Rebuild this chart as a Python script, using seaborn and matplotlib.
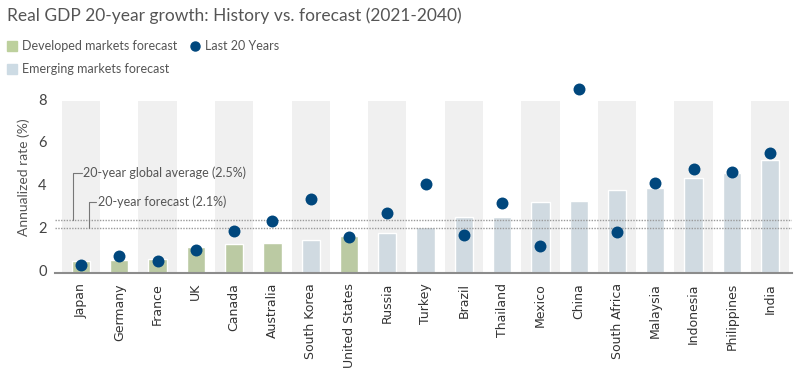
import numpy as np
import pandas as pd
import seaborn as sns
import matplotlib.pyplot as plt
from matplotlib.lines import Line2D
from matplotlib.transforms import ScaledTranslation

sns.set_style('white')
plt.rcParams['font.family'] = ['Lato', 'DejaVu Sans']

# data
countries = ['Japan', 'Germany', 'France', 'UK', 'Canada', 'Australia', 'South Korea',
             'United States', 'Russia', 'Turkey', 'Brazil', 'Thailand', 'Mexico', 'China',
             'South Africa', 'Malaysia', 'Indonesia', 'Philippines', 'India']
groups = ['Developed'] * 6 + ['Emerging'] + ['Developed'] + ['Emerging'] * 11
forecast = [0.57, 0.62, 0.67, 1.24, 1.38, 1.43, 1.56, 1.76, 1.87, 2.18, 2.62, 2.64,
            3.32, 3.39, 3.88, 3.99, 4.45, 4.69, 5.29]
last20 = [0.39, 0.82, 0.59, 1.09, 1.98, 2.46, 3.47, 1.68, 2.83, 4.16, 1.79, 3.28,
          1.29, 8.6, 1.93, 4.22, 4.87, 4.72, 5.64]
global_avg = 2.48
forecast_avg = 2.1

df = pd.DataFrame({'country': countries, 'group': groups,
                   'forecast': forecast, 'last20': last20})

green = '#bdd09d'
lightblue = '#cddbe4'
dotblue = '#00477d'
band = '#f0f0f0'
txt = '#555555'

fig = plt.figure(figsize=(7.99, 3.72), dpi=100)
ax = fig.add_axes([0.0688, 0.2653, 0.9224, 0.5177])

# alternating background bands
for i in range(0, len(countries), 2):
    ax.axvspan(i - 0.5, i + 0.5, ymin=0, ymax=8.05 / 9, color=band, lw=0, zorder=0)

sns.barplot(data=df, x='country', y='forecast', hue='group', dodge=False,
            palette={'Developed': green, 'Emerging': lightblue}, width=0.48,
            legend=False, ax=ax, zorder=2)
sns.stripplot(data=df, x='country', y='last20', jitter=False, color=dotblue,
              size=8.6, linewidth=0, ax=ax, zorder=4)

ax.axhline(global_avg, color='#9a9a9a', lw=1, ls=(0, (1, 1)), zorder=3)
ax.axhline(forecast_avg, color='#9a9a9a', lw=1, ls=(0, (1, 1)), zorder=3)

# bracket annotations
ax.plot([-0.2, -0.2, 0.03], [global_avg, 4.7, 4.7], color='#777777', lw=0.8, zorder=3,
        clip_on=False)
ax.text(0.05, 4.7, '20-year global average (2.5%)', va='center', ha='left',
        fontsize=9, color=txt)
ax.plot([0.2, 0.2, 0.4], [forecast_avg, 3.35, 3.35], color='#777777', lw=0.8, zorder=3,
        clip_on=False)
ax.text(0.45, 3.35, '20-year forecast (2.1%)', va='center', ha='left',
        fontsize=9, color=txt)

ax.set_xlim(-0.68, 18.57)
ax.set_ylim(0, 9)
ax.set_yticks([0, 2, 4, 6, 8])
ax.tick_params(axis='y', labelsize=10.5, labelcolor='#444444', length=0, pad=6)
ax.tick_params(axis='x', length=0, pad=7)
ax.set_xticks(range(len(countries)))
ax.set_xticklabels(countries, rotation=90, fontsize=9, color='#333333',
                   family='DejaVu Sans')
# tick labels sit a little above their values in the original
for lab in ax.get_yticklabels():
    lab.set_transform(lab.get_transform() + ScaledTranslation(0, 0.03, fig.dpi_scale_trans))
ax.set_xlabel('')
ax.set_ylabel('Annualized rate (%)', fontsize=10, color=txt, labelpad=6)
for s in ['top', 'right', 'left']:
    ax.spines[s].set_visible(False)
ax.spines['bottom'].set_color('#8c8c8c')
ax.spines['bottom'].set_linewidth(1.5)
ax.spines['bottom'].set_zorder(5)

fig.text(0.009, 0.958, 'Real GDP 20-year growth: History vs. forecast (2021-2040)',
         fontsize=12.5, color=txt, va='center', ha='left')

handles = [
    Line2D([], [], marker='s', ls='', color=green, markersize=7),
    Line2D([], [], marker='s', ls='', color=lightblue, markersize=7),
    Line2D([], [], marker='o', ls='', color=dotblue, markersize=6.5),
]
labels = ['Developed markets forecast', 'Emerging markets forecast', 'Last 20 Years']
fig.legend(handles, labels, loc='upper left', bbox_to_anchor=(0.003, 0.905), ncol=2,
           frameon=False, fontsize=9, handlelength=0.8, handletextpad=0.4,
           columnspacing=1.0, labelspacing=0.85, labelcolor=txt, borderaxespad=0)

fig.savefig('out.png', dpi=100)
